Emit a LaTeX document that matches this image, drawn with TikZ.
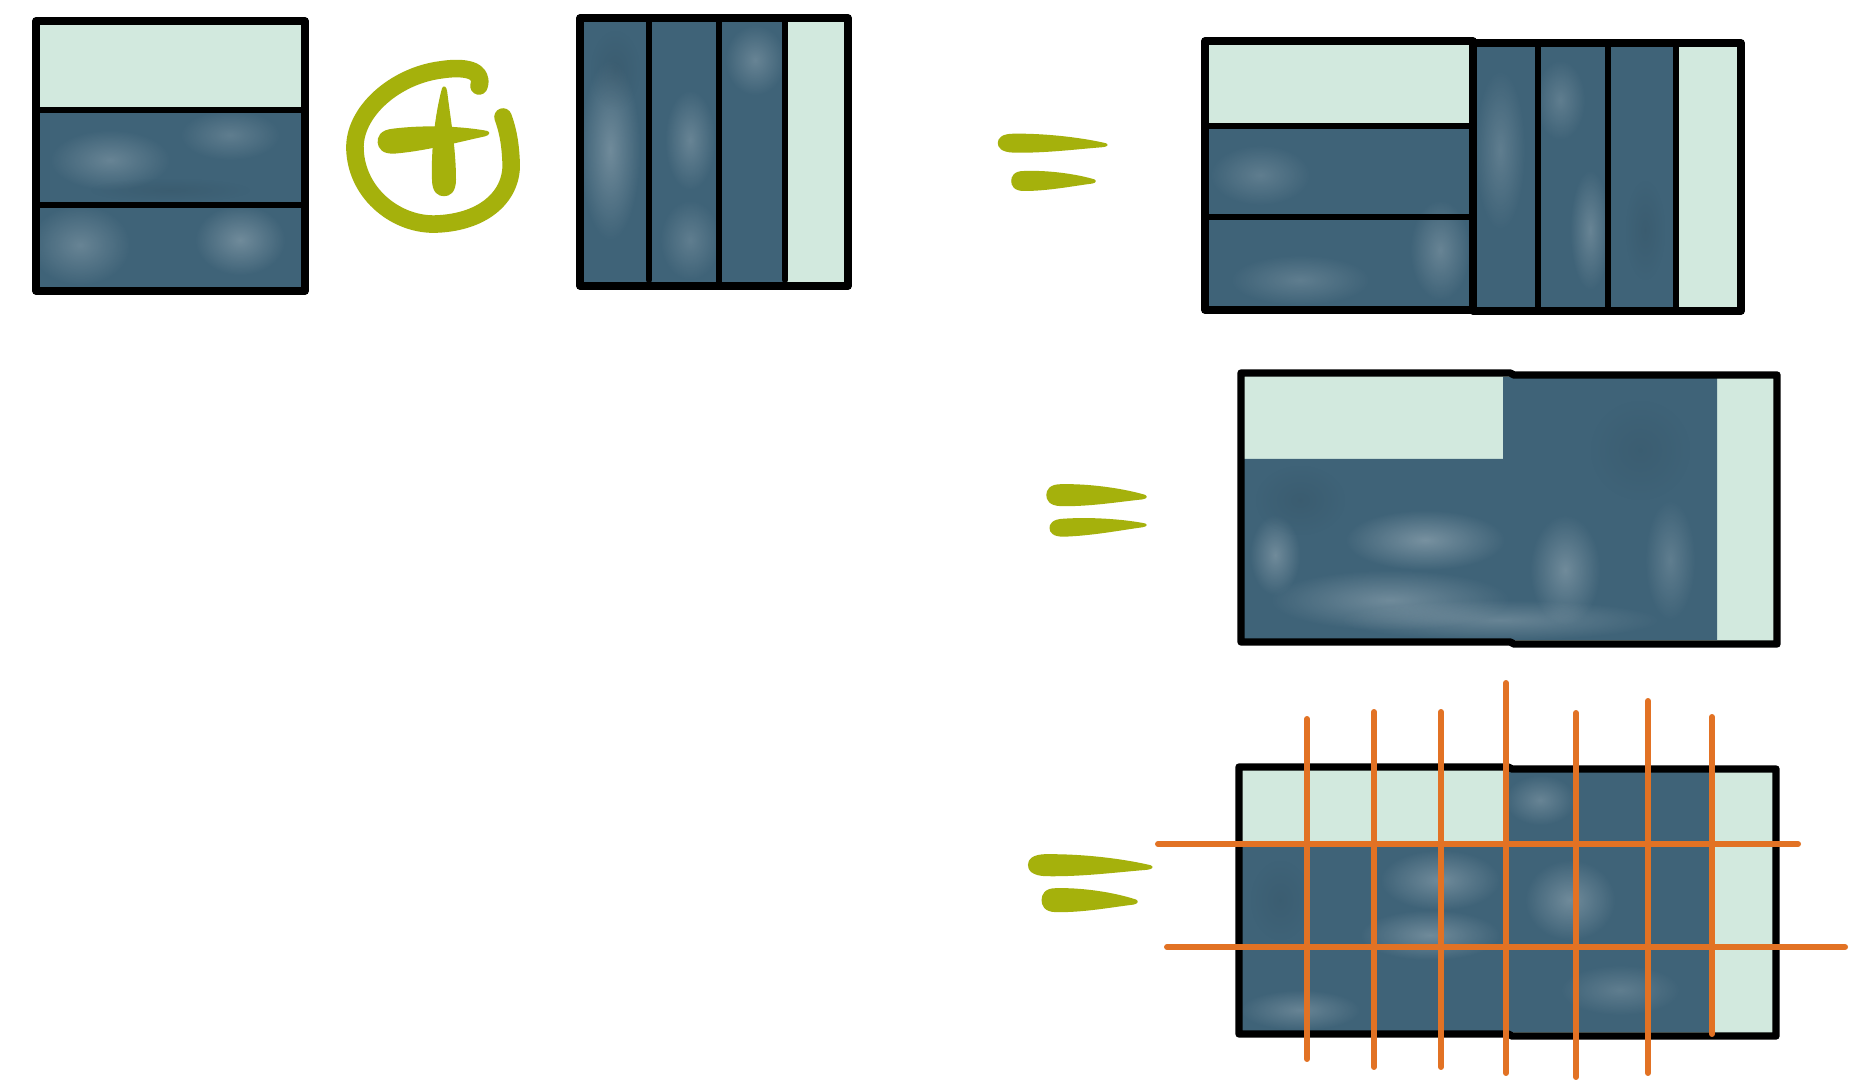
\documentclass[tikz,border=0pt]{standalone}
\usetikzlibrary{fadings}
\definecolor{wcdark}{RGB}{63,99,120}
\definecolor{wclight}{RGB}{210,233,222}
\definecolor{plusgreen}{RGB}{165,177,12}
\definecolor{gridorange}{RGB}{226,114,36}
\tikzfading[name=softblob, inner color=transparent!15, outer color=transparent!100]
\tikzset{
  boxline/.style={line width=2.1pt, line join=round, line cap=round},
  divider/.style={line width=1.8pt, line cap=round},
  gridline/.style={gridorange, line width=1.7pt, line cap=round},
  blot/.style={fill=white, fill opacity=#1, path fading=softblob},
  blot/.default=0.3,
  darkblot/.style={fill=wcdark!75!black, fill opacity=#1, path fading=softblob},
  darkblot/.default=0.35,
  greenstroke/.style={plusgreen, line width=5pt, line cap=round, line join=round},
}
\newcommand\taperstroke[5]{%
  \fill[plusgreen, shift={(#1,#2)}, rotate=#3, xscale=#4, yscale=#5]
    (0.1,-0.5) .. controls (0.45,-0.55) and (0.8,-0.3) .. (0.98,-0.08)
    .. controls (1.01,-0.02) and (1.0,0.1) .. (0.95,0.13)
    .. controls (0.7,0.26) and (0.4,0.5) .. (0.1,0.5)
    .. controls (-0.03,0.5) and (-0.06,0.22) .. (-0.06,0)
    .. controls (-0.06,-0.22) and (-0.03,-0.5) .. (0.1,-0.5) -- cycle;}
\newcommand\blotat[5]{\fill[#5] (#1-#3,#2-#4) rectangle (#1+#3,#2+#4);}
\begin{document}
\begin{tikzpicture}[x=0.01cm, y=-0.01cm]
\useasboundingbox (0,0) rectangle (1870,1092);
\fill[white] (0,0) rectangle (1870,1092);

% ---------- box 1 : horizontal bands ----------
\coordinate (b1nw) at (36,21);
\coordinate (b1se) at (305,291);
\fill[wclight] (38,23) rectangle (303,110);
\fill[wcdark] (38,110) rectangle (303,289);
\blotat{110}{160}{60}{30}{blot=0.25}
\blotat{230}{135}{50}{25}{blot=0.2}
\blotat{80}{245}{50}{40}{blot=0.25}
\blotat{240}{240}{45}{35}{blot=0.3}
\blotat{170}{190}{80}{12}{darkblot=0.3}
\draw[boxline] (b1nw) rectangle (b1se);
\draw[divider] (36,110) -- (305,110) (36,205) -- (305,205);

% ---------- plus in circle ----------
\draw[greenstroke] (479,86) .. controls (484,70) and (465,66) .. (440,70)
  .. controls (395,76) and (353,112) .. (355,150)
  .. controls (357,195) and (398,226) .. (437,224)
  .. controls (485,222) and (514,195) .. (511,160)
  .. controls (510,140) and (507,128) .. (503,117);
\taperstroke{444}{190}{90}{104}{24}
\taperstroke{384}{142}{5}{106}{25}

% ---------- box 2 : vertical bands ----------
\coordinate (b2nw) at (580,18);
\coordinate (b2se) at (848,286);
\fill[wcdark] (582,20) rectangle (785,284);
\fill[wclight] (785,20) rectangle (846,284);
\blotat{610}{150}{30}{90}{blot=0.3}
\blotat{690}{140}{25}{50}{blot=0.25}
\blotat{690}{240}{30}{40}{blot=0.2}
\blotat{755}{60}{30}{35}{blot=0.25}
\blotat{615}{70}{25}{40}{darkblot=0.3}
\draw[boxline] (b2nw) rectangle (b2se);
\draw[divider] (649,18) -- (649,280) (719,18) -- (719,286) (785,18) -- (785,280);

% ---------- equals 1 ----------
\taperstroke{1004}{143}{-1}{104}{19}
\taperstroke{1016}{181}{0}{80}{20}

% ---------- box 3 : concatenation ----------
\coordinate (b3anw) at (1205,41);
\coordinate (b3ase) at (1473,310);
\coordinate (b3bnw) at (1473,43);
\coordinate (b3bse) at (1741,311);
\fill[wclight] (1207,43) rectangle (1471,126);
\fill[wcdark] (1207,126) rectangle (1471,308);
\fill[wcdark] (1475,45) rectangle (1676,309);
\fill[wclight] (1676,45) rectangle (1739,309);
\blotat{1260}{175}{50}{30}{blot=0.2}
\blotat{1300}{280}{70}{25}{blot=0.2}
\blotat{1440}{250}{30}{50}{blot=0.25}
\blotat{1500}{150}{25}{80}{blot=0.2}
\blotat{1590}{230}{20}{60}{blot=0.25}
\blotat{1645}{230}{20}{50}{darkblot=0.3}
\blotat{1560}{100}{25}{40}{blot=0.2}
\draw[boxline] (b3anw) rectangle (b3ase);
\draw[boxline] (b3bnw) rectangle (b3bse);
\draw[divider] (1205,126) -- (1473,126) (1205,217) -- (1473,217);
\draw[divider] (1538,43) -- (1538,311) (1608,43) -- (1608,311) (1676,43) -- (1676,311);

% ---------- equals 2 ----------
\taperstroke{1052}{495}{-1}{95}{22}
\taperstroke{1055}{528}{2}{92}{18}

% ---------- box 4 : merged ----------
\coordinate (b4nw) at (1241,373);
\coordinate (b4se) at (1777,644);
\fill[wclight] (1243,375) rectangle (1775,642);
\fill[wcdark] (1244,459) -- (1503,459) -- (1503,377) -- (1717,377)
  -- (1717,640) -- (1244,640) -- cycle;
\blotat{1425}{540}{80}{30}{blot=0.35}
\blotat{1390}{600}{120}{30}{blot=0.3}
\blotat{1565}{570}{35}{55}{blot=0.3}
\blotat{1275}{555}{25}{40}{blot=0.3}
\blotat{1670}{560}{25}{60}{blot=0.2}
\blotat{1500}{620}{160}{20}{blot=0.25}
\blotat{1300}{500}{45}{35}{darkblot=0.3}
\blotat{1640}{450}{50}{50}{darkblot=0.25}
\draw[boxline] (b4nw) -- (1510,373) -- (1514,375) -- (1777,375)
  -- (b4se) -- (1514,644) -- (1510,642) -- (1241,642) -- cycle;

% ---------- equals 3 ----------
\taperstroke{1035}{865}{-1}{118}{22}
\taperstroke{1047}{900}{-1}{91}{24}

% ---------- box 5 : merged with grid ----------
\coordinate (b5nw) at (1239,767);
\coordinate (b5se) at (1776,1036);
\fill[wclight] (1241,769) rectangle (1774,1034);
\fill[wcdark] (1242,846) -- (1509,846) -- (1509,771) -- (1711,771)
  -- (1711,1032) -- (1242,1032) -- cycle;
\blotat{1440}{880}{60}{30}{blot=0.3}
\blotat{1430}{935}{70}{25}{blot=0.3}
\blotat{1570}{900}{45}{40}{blot=0.3}
\blotat{1540}{800}{35}{25}{blot=0.25}
\blotat{1300}{1010}{60}{20}{blot=0.25}
\blotat{1620}{990}{60}{25}{blot=0.2}
\blotat{1280}{900}{30}{40}{darkblot=0.25}
\draw[boxline] (b5nw) -- (1508,767) -- (1512,769) -- (1776,769)
  -- (b5se) -- (1512,1036) -- (1508,1034) -- (1239,1034) -- cycle;

% orange grid
\coordinate (h1a) at (1158,844); \coordinate (h1b) at (1798,844);
\coordinate (h2a) at (1167,947); \coordinate (h2b) at (1845,947);
\draw[gridline] (h1a) -- (h1b);
\draw[gridline] (h2a) -- (h2b);
\draw[gridline] (1307,719) -- (1307,1059);
\draw[gridline] (1374,712) -- (1374,1067);
\draw[gridline] (1441,712) -- (1441,1067);
\draw[gridline] (1506,683) -- (1506,1073);
\draw[gridline] (1576,713) -- (1576,1077);
\draw[gridline] (1648,701) -- (1648,1073);
\draw[gridline] (1712,717) -- (1712,1034);
\end{tikzpicture}
\end{document}
